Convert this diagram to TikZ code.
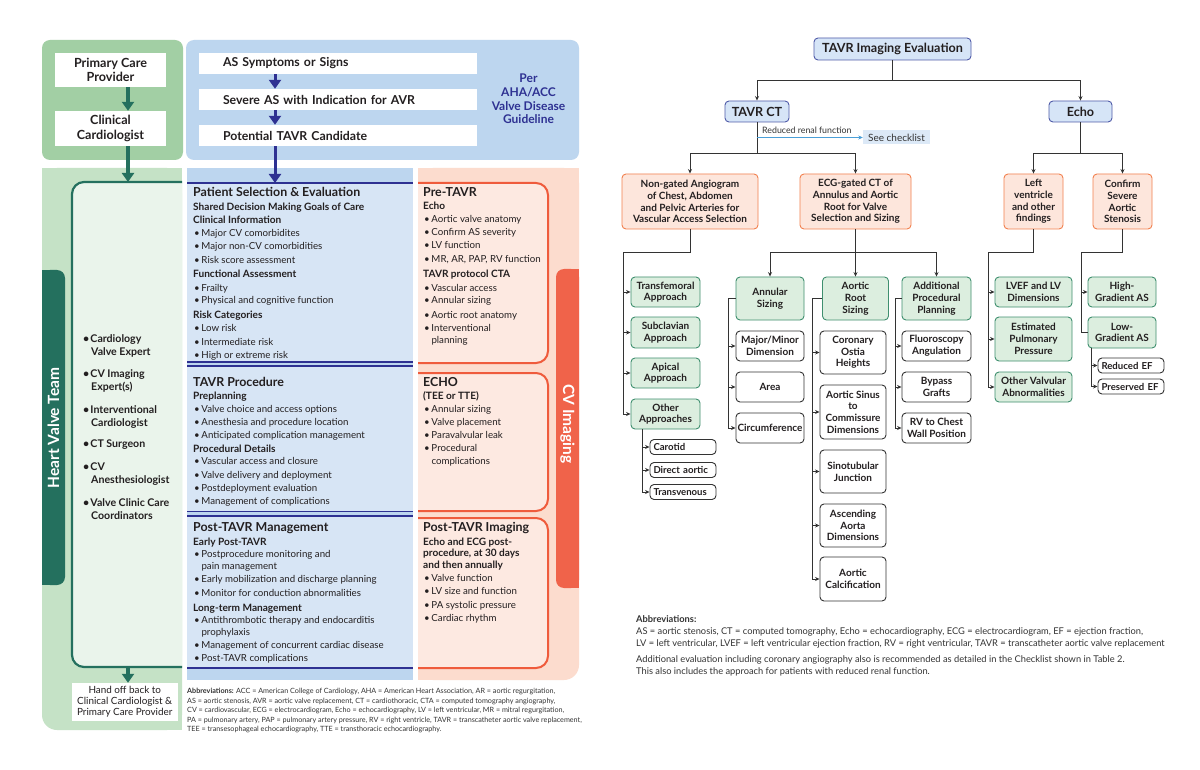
\documentclass[tikz,border=0pt]{standalone}
\usepackage{fontspec}
\setmainfont{Lato}
\usetikzlibrary{arrows.meta}
\definecolor{navyc}{HTML}{2E3192}
\definecolor{hvteal}{HTML}{24705E}
\definecolor{gtop}{HTML}{A2CFA4}
\definecolor{glow}{HTML}{C5E2C6}
\definecolor{ginner}{HTML}{EAF4EB}
\definecolor{btop}{HTML}{BDD6EF}
\definecolor{bbody}{HTML}{D7E5F5}
\definecolor{pinkp}{HTML}{FCDCCE}
\definecolor{pinkbox}{HTML}{FDE9E1}
\definecolor{oranged}{HTML}{EF5B3C}
\definecolor{cvbar}{HTML}{F0634A}
\definecolor{txt}{HTML}{231F20}
\definecolor{rgreenf}{HTML}{DCEEDF}
\definecolor{rgreend}{HTML}{3F8F6F}
\definecolor{rorangef}{HTML}{FDE6DC}
\definecolor{rorangeb}{HTML}{F2814F}
\definecolor{rbluef}{HTML}{D6E5F7}
\definecolor{rblued}{HTML}{4F5BA8}
\definecolor{connc}{HTML}{333333}
\definecolor{skyl}{HTML}{4A9FD8}
\definecolor{chkf}{HTML}{DCE9F7}
\newcommand\bu{\makebox[7.3pt][l]{\textbullet}}
\newcommand\PinkBox[2]{%
  \fill[pinkbox, rounded corners=12pt] (418,#1) rectangle (548,#2);
  \fill[pinkbox] (418,#1) rectangle (470,#2);
  \draw[oranged, line width=2pt, rounded corners=12pt] (418,#1) -- (548,#1) -- (548,#2) -- (418,#2);}
\begin{document}
\begin{tikzpicture}[x=1pt,y=-1pt,
  tl/.style={anchor=base west, inner sep=0pt, text=txt},
  ttl/.style={tl, font=\fontsize{12.4}{14}\selectfont\bfseries},
  sub/.style={tl, font=\fontsize{10.1}{11}\selectfont\bfseries},
  bul/.style={tl, font=\fontsize{9.7}{11}\selectfont},
  team/.style={tl, font=\fontsize{10.6}{12}\selectfont\bfseries},
  wbl/.style={fill=white, inner sep=0pt, text=txt, align=center},
  sbox/.style={fill=white, inner ysep=0pt, inner xsep=24pt, text width=230pt, minimum height=21pt, align=left, text=txt, font=\fontsize{12.3}{13}\selectfont\bfseries},
  tarr/.style={draw=hvteal, line width=3.2pt, -{Triangle[length=9pt,width=12pt]}},
  narr/.style={draw=navyc, line width=3pt, -{Triangle[length=9pt,width=12pt]}},
  rb/.style={draw=connc, line width=0.9pt, rounded corners=4pt, inner sep=1pt, align=center, font=\fontsize{10}{11.7}\selectfont\bfseries, text=txt},
  gb/.style={rb, fill=rgreenf, draw=rgreend},
  ob/.style={rb, fill=rorangef, draw=rorangeb},
  wb/.style={rb, fill=white},
  bb/.style={rb, fill=rbluef, draw=rblued, font=\fontsize{12.6}{14}\selectfont\bfseries},
  sm/.style={rb, fill=white, inner xsep=3.5pt, inner ysep=0pt, text width=59pt, align=left, minimum height=15pt, font=\fontsize{9.6}{10}\selectfont\bfseries},
  sz/.style 2 args={minimum width=#1, minimum height=#2},
  conn/.style={draw=connc, line width=0.9pt},
  arr/.style={conn, -{Stealth[length=4.5pt,width=4pt]}},
  abl/.style={tl, text=connc, font=\fontsize{7.2}{8}\selectfont},
  abr/.style={tl, text=connc, font=\fontsize{9.3}{10}\selectfont}
]
\useasboundingbox (0,0) rectangle (1200,770);
\fill[white] (0,0) rectangle (1200,770);

% ---------------- LEFT PANEL BACKGROUNDS ----------------
\fill[gtop, rounded corners=8pt] (42,40) rectangle (183,160);
\fill[btop, rounded corners=8pt] (186,40) rectangle (579,160);
% lower green
\fill[glow, rounded corners=15pt] (42,168) rectangle (182,730);
\fill[glow] (42,168) rectangle (182,400);
\fill[glow] (100,168) rectangle (182,730);
% heart valve team bar
\fill[hvteal, rounded corners=8pt] (42,270) rectangle (65,585);
\fill[hvteal] (42,270) rectangle (54,585);
% inner team box
\fill[ginner, rounded corners=12pt] (72,182) rectangle (182,667);
\fill[ginner] (150,182) rectangle (182,667);
\draw[hvteal, line width=2.2pt, rounded corners=12pt] (182,182) -- (72,182) -- (72,667) -- (182,667);
% blue panel
\fill[bbody] (187,168) rectangle (413,680);
\fill[btop] (187,168) rectangle (413,183);
\fill[btop] (187,668) rectangle (413,680);
\draw[navyc, line width=2pt] (187,183) -- (413,183);
\fill[btop] (187,362) rectangle (413,366);
\draw[navyc, line width=1.8pt] (187,362) -- (413,362);
\draw[navyc, line width=1.5pt] (187,366) -- (413,366);
\fill[btop] (187,511.5) rectangle (413,516);
\draw[navyc, line width=1.8pt] (187,511.5) -- (413,511.5);
\draw[navyc, line width=1.5pt] (187,516) -- (413,516);
\draw[navyc, line width=2pt] (187,668) -- (413,668);
% pink panel
\fill[pinkp, rounded corners=15pt] (418,168) rectangle (579,680);
\fill[pinkp] (418,168) rectangle (579,400);
\fill[pinkp] (418,168) rectangle (500,680);
\PinkBox{183}{363}
\PinkBox{373}{511}
\PinkBox{518}{668}
% CV imaging bar
\fill[cvbar, rounded corners=8pt] (556,269) rectangle (579,588);
\fill[cvbar] (568,269) rectangle (579,588);

% ---------------- LEFT PANEL NODES ----------------
\node[wbl, minimum width=111pt, minimum height=34pt, font=\fontsize{12.6}{13.5}\selectfont\bfseries] (pcp) at (110.5,70) {Primary Care\\Provider};
\node[wbl, minimum width=111pt, minimum height=35pt, font=\fontsize{12.6}{14.5}\selectfont\bfseries] (cc) at (110.5,128.5) {Clinical\\Cardiologist};
\node[sbox] (s1) at (338,63.5) {AS Symptoms or Signs};
\node[sbox] (s2) at (338,99.5) {Severe AS with Indication for AVR};
\node[sbox] (s3) at (338,135.5) {Potential TAVR Candidate};
\node[align=center, text=navyc, inner sep=0pt, font=\fontsize{12}{13.6}\selectfont\bfseries] (per) at (528.5,99) {Per\\AHA/ACC\\Valve Disease\\Guideline};
\node[wbl, minimum width=105.5pt, minimum height=37.5pt, font=\fontsize{9.9}{11.4}\selectfont] (handoff) at (124.75,701.75) {Hand off back to\\Clinical Cardiologist \&\\Primary Care Provider};

\coordinate (ax) at (128,0);
\coordinate (nx) at (275,0);
\coordinate (teamtop) at (128,182);
\coordinate (teambot) at (128,667);
\coordinate (pstop) at (275,183);
\draw[tarr] (pcp.south -| ax) -- (cc.north -| ax);
\draw[tarr] (cc.south -| ax) -- (teamtop);
\draw[tarr] (teambot) -- (handoff.north -| ax);
\draw[narr] (s1.south -| nx) -- (s2.north -| nx);
\draw[narr] (s2.south -| nx) -- (s3.north -| nx);
\draw[narr] (s3.south -| nx) -- (pstop);

\node[rotate=90, text=white, inner sep=0pt, font=\fontsize{15.5}{16}\selectfont\bfseries] (hvt) at (53.5,428) {Heart Valve Team};
\node[rotate=-90, text=white, inner sep=0pt, font=\fontsize{15.5}{16}\selectfont\bfseries] (cvi) at (567.5,424) {CV Imaging};

% team list
\node[team] at (83,342) {\bu Cardiology};
\node[team] at (91,355) {Valve Expert};
\node[team] at (83,377) {\bu CV Imaging};
\node[team] at (91,390) {Expert(s)};
\node[team] at (83,413) {\bu Interventional};
\node[team] at (91,426) {Cardiologist};
\node[team] at (83,447) {\bu CT Surgeon};
\node[team] at (83,470) {\bu CV};
\node[team] at (91,483) {Anesthesiologist};
\node[team] at (83,506) {\bu Valve Clinic Care};
\node[team] at (91,519) {Coordinators};

% Patient selection
\node[ttl] at (193,197) {Patient Selection \& Evaluation};
\node[sub] at (193,211) {Shared Decision Making Goals of Care};
\node[sub] at (193,224) {Clinical Information};
\node[bul] at (194,237) {\bu Major CV comorbidites};
\node[bul] at (194,250) {\bu Major non-CV comorbidities};
\node[bul] at (194,264) {\bu Risk score assessment};
\node[sub] at (193,278) {Functional Assessment};
\node[bul] at (194,291) {\bu Frailty};
\node[bul] at (194,304) {\bu Physical and cognitive function};
\node[sub] at (193,319) {Risk Categories};
\node[bul] at (194,331) {\bu Low risk};
\node[bul] at (194,345) {\bu Intermediate risk};
\node[bul] at (194,358) {\bu High or extreme risk};
% TAVR procedure
\node[ttl] at (193,386) {TAVR Procedure};
\node[sub] at (193,399) {Preplanning};
\node[bul] at (194,412) {\bu Valve choice and access options};
\node[bul] at (194,425) {\bu Anesthesia and procedure location};
\node[bul] at (194,438) {\bu Anticipated complication management};
\node[sub] at (193,452) {Procedural Details};
\node[bul] at (194,464) {\bu Vascular access and closure};
\node[bul] at (194,478) {\bu Valve delivery and deployment};
\node[bul] at (194,491) {\bu Postdeployment evaluation};
\node[bul] at (194,504) {\bu Management of complications};
% Post-TAVR management
\node[ttl] at (193,531) {Post-TAVR Management};
\node[sub] at (193,545) {Early Post-TAVR};
\node[bul] at (194,557) {\bu Postprocedure monitoring and};
\node[bul] at (201.3,569.5) {pain management};
\node[bul] at (194,582) {\bu Early mobilization and discharge planning};
\node[bul] at (194,596) {\bu Monitor for conduction abnormalities};
\node[sub] at (193,611) {Long-term Management};
\node[bul] at (194,623.5) {\bu Antithrombotic therapy and endocarditis};
\node[bul] at (201.3,635) {prophylaxis};
\node[bul] at (194,648) {\bu Management of concurrent cardiac disease};
\node[bul] at (194,661) {\bu Post-TAVR complications};
% Pre-TAVR
\node[ttl] at (423,197) {Pre-TAVR};
\node[sub] at (423,210) {Echo};
\node[bul] at (424,223) {\bu Aortic valve anatomy};
\node[bul] at (424,236) {\bu Confirm AS severity};
\node[bul] at (424,249) {\bu LV function};
\node[bul] at (424,263) {\bu MR, AR, PAP, RV function};
\node[sub] at (423,278) {TAVR protocol CTA};
\node[bul] at (424,291) {\bu Vascular access};
\node[bul] at (424,304) {\bu Annular sizing};
\node[bul] at (424,318) {\bu Aortic root anatomy};
\node[bul] at (424,331) {\bu Interventional};
\node[bul] at (431.3,343) {planning};
% ECHO
\node[ttl] at (423,386) {ECHO};
\node[sub] at (423,399) {(TEE or TTE)};
\node[bul] at (424,412) {\bu Annular sizing};
\node[bul] at (424,425) {\bu Valve placement};
\node[bul] at (424,438) {\bu Paravalvular leak};
\node[bul] at (424,451) {\bu Procedural};
\node[bul] at (431.3,464) {complications};
% Post-TAVR imaging
\node[ttl] at (423,531) {Post-TAVR Imaging};
\node[sub] at (423,545) {Echo and ECG post-};
\node[sub] at (423,556.5) {procedure, at 30 days};
\node[sub] at (423,568) {and then annually};
\node[bul] at (424,581) {\bu Valve function};
\node[bul] at (424,594) {\bu LV size and function};
\node[bul] at (424,608) {\bu PA systolic pressure};
\node[bul] at (424,621) {\bu Cardiac rhythm};
% left abbreviations
\node[abl] at (187,693.5) {\textbf{Abbreviations:} ACC = American College of Cardiology, AHA = American Heart Association, AR = aortic regurgitation,};
\node[abl] at (187,703) {AS = aortic stenosis, AVR = aortic valve replacement, CT = cardiothoracic, CTA = computed tomography angiography,};
\node[abl] at (187,712.5) {CV = cardiovascular, ECG = electrocardiogram, Echo = echocardiography, LV = left ventricular, MR = mitral regurgitation,};
\node[abl] at (187,722) {PA = pulmonary artery, PAP = pulmonary artery pressure, RV = right ventricle, TAVR = transcatheter aortic valve replacement,};
\node[abl] at (187,731.5) {TEE = transesophageal echocardiography, TTE = transthoracic echocardiography.};

% ---------------- RIGHT PANEL ----------------
\node[bb, sz={157pt}{22pt}] (eval) at (892.5,49) {TAVR Imaging Evaluation};
\node[bb, sz={64pt}{21pt}] (tavrct) at (757,111.5) {TAVR CT};
\node[bb, sz={63pt}{21pt}] (echo) at (1080.5,111.5) {Echo};
\node[fill=chkf, minimum width=67pt, minimum height=14pt, inner sep=0pt, text=connc, font=\fontsize{10}{11}\selectfont] (seecheck) at (896.5,137.5) {See checklist};
\node[tl, text=connc, font=\fontsize{8.8}{9}\selectfont] (rrf) at (762,133.5) {Reduced renal function};

\node[ob, sz={136pt}{55pt}] (nongated) at (690,201.5) {Non-gated Angiogram\\of Chest, Abdomen\\and Pelvic Arteries for\\Vascular Access Selection};
\node[ob, sz={111pt}{55pt}] (ecg) at (855.5,201.5) {ECG-gated CT of\\Annulus and Aortic\\Root for Valve\\Selection and Sizing};
\node[ob, sz={59pt}{55pt}] (lv) at (1033.5,201.5) {Left\\ventricle\\and other\\findings};
\node[ob, sz={59pt}{55pt}] (conf) at (1122.5,201.5) {Confirm\\Severe\\Aortic\\Stenosis};

\node[gb, sz={69pt}{30pt}] (transfem) at (665.5,292) {Transfemoral\\Approach};
\node[gb, sz={69pt}{31pt}] (subcl) at (665.5,332.5) {Subclavian\\Approach};
\node[gb, sz={69pt}{30pt}] (apical) at (665.5,373) {Apical\\Approach};
\node[gb, sz={69pt}{30pt}] (other) at (665.5,414) {Other\\Approaches};
\node[sm, minimum width=66pt] (carotid) at (683,447) {Carotid};
\node[sm, minimum width=66pt] (direct) at (683,470) {Direct aortic};
\node[sm, minimum width=66pt] (transv) at (683,492) {Transvenous};

\node[gb, sz={68pt}{43pt}] (annular) at (770,298.5) {Annular\\Sizing};
\node[gb, sz={66pt}{43pt}] (root) at (855.5,298.5) {Aortic\\Root\\Sizing};
\node[gb, sz={69pt}{43pt}] (addl) at (936.5,298.5) {Additional\\Procedural\\Planning};
\node[wb, sz={68pt}{30pt}] (majmin) at (770,346) {Major/Minor\\Dimension};
\node[wb, sz={68pt}{30pt}] (area) at (770,387) {Area};
\node[wb, sz={68pt}{30pt}] (circ) at (770,428) {Circumference};
\node[wb, sz={66pt}{43pt}] (coronary) at (853,352.5) {Coronary\\Ostia\\Heights};
\node[wb, sz={66pt}{54pt}] (sinus) at (853,412) {Aortic Sinus\\to\\Commissure\\Dimensions};
\node[wb, sz={66pt}{43pt}] (stj) at (853,471.5) {Sinotubular\\Junction};
\node[wb, sz={66pt}{43pt}] (asc) at (853,525.5) {Ascending\\Aorta\\Dimensions};
\node[wb, sz={66pt}{44pt}] (calc) at (853,579) {Aortic\\Calcification};
\node[wb, sz={69pt}{30pt}] (fluoro) at (936.5,346) {Fluoroscopy\\Angulation};
\node[wb, sz={69pt}{30pt}] (bypass) at (936.5,387) {Bypass\\Grafts};
\node[wb, sz={69pt}{30pt}] (rv) at (936.5,428) {RV to Chest\\Wall Position};

\node[gb, sz={77pt}{30pt}] (lvef) at (1033.5,292) {LVEF and LV\\Dimensions};
\node[gb, sz={77pt}{44pt}] (epp) at (1033.5,339) {Estimated\\Pulmonary\\Pressure};
\node[gb, sz={77pt}{30pt}] (ova) at (1033.5,387) {Other Valvular\\Abnormalities};
\node[gb, sz={68pt}{30pt}] (highg) at (1122,292) {High-\\Gradient AS};
\node[gb, sz={68pt}{31pt}] (lowg) at (1122,332.5) {Low-\\Gradient AS};
\node[sm, minimum width=66pt] (redef) at (1131,365.5) {Reduced EF};
\node[sm, minimum width=66pt] (presef) at (1131,386.5) {Preserved EF};

% connectors
\coordinate (b1) at (0,80);
\coordinate (b2) at (0,153);
\coordinate (b3) at (0,252);
\coordinate (t1) at (623,252);
\coordinate (t2) at (642,0);
\coordinate (t3) at (728,0);
\coordinate (t4) at (812,0);
\coordinate (t5) at (895,0);
\coordinate (t6) at (988,252);
\coordinate (t7) at (1081,252);
\coordinate (t8) at (1091,0);

\draw[conn] (eval.south) -- (eval.south |- b1);
\draw[arr] (eval.south |- b1) -| (tavrct.north);
\draw[arr] (eval.south |- b1) -| (echo.north);
\draw[conn] (tavrct.south) -- (tavrct.south |- b2);
\draw[arr] (tavrct.south |- b2) -| (nongated.north);
\draw[arr] (tavrct.south |- b2) -| (ecg.north);
\draw[skyl, line width=0.9pt, -{Stealth[length=4.5pt,width=4pt]}] (tavrct.south |- seecheck.west) -- (seecheck.west);
\draw[conn] (echo.south) -- (echo.south |- b2);
\draw[arr] (echo.south |- b2) -| (lv.north);
\draw[arr] (echo.south |- b2) -| (conf.north);

\draw[conn] (nongated.south) |- (t1) -- (t1 |- other.west);
\foreach \n in {transfem,subcl,apical,other} \draw[arr] (t1 |- \n.west) -- (\n.west);
\draw[conn] (other.south -| t2) -- (t2 |- transv.west);
\foreach \n in {carotid,direct,transv} \draw[arr] (t2 |- \n.west) -- (\n.west);

\draw[conn] (ecg.south) -- (ecg.south |- b3);
\draw[arr] (ecg.south |- b3) -| (annular.north);
\draw[arr] (ecg.south |- b3) -| (addl.north);
\draw[arr] (ecg.south |- b3) -- (root.north);
\draw[conn] (annular.west) -- (annular.west -| t3) -- (t3 |- circ.west);
\foreach \n in {majmin,area,circ} \draw[arr] (t3 |- \n.west) -- (\n.west);
\draw[conn] (root.west) -- (root.west -| t4) -- (t4 |- calc.west);
\foreach \n in {coronary,sinus,stj,asc,calc} \draw[arr] (t4 |- \n.west) -- (\n.west);
\draw[conn] (addl.west) -- (addl.west -| t5) -- (t5 |- rv.west);
\foreach \n in {fluoro,bypass,rv} \draw[arr] (t5 |- \n.west) -- (\n.west);

\draw[conn] (lv.south) |- (t6) -- (t6 |- ova.west);
\foreach \n in {lvef,epp,ova} \draw[arr] (t6 |- \n.west) -- (\n.west);
\draw[conn] (conf.south) |- (t7) -- (t7 |- lowg.west) -- (lowg.west);
\draw[arr] (t7 |- highg.west) -- (highg.west);
\draw[conn] (lowg.south -| t8) -- (t8 |- presef.west);
\foreach \n in {redef,presef} \draw[arr] (t8 |- \n.west) -- (\n.west);

% right abbreviations
\node[abr] (abh) at (636,622.5) {\textbf{Abbreviations:}};
\node[abr] at (636,634.5) {AS = aortic stenosis, CT = computed tomography, Echo = echocardiography, ECG = electrocardiogram, EF = ejection fraction,};
\node[abr] at (636,646.5) {LV = left ventricular, LVEF = left ventricular ejection fraction, RV = right ventricular, TAVR = transcatheter aortic valve replacement};
\node[abr] at (636,662.5) {Additional evaluation including coronary angiography also is recommended as detailed in the Checklist shown in Table 2.};
\node[abr] at (636,674.5) {This also includes the approach for patients with reduced renal function.};
\end{tikzpicture}
\end{document}
